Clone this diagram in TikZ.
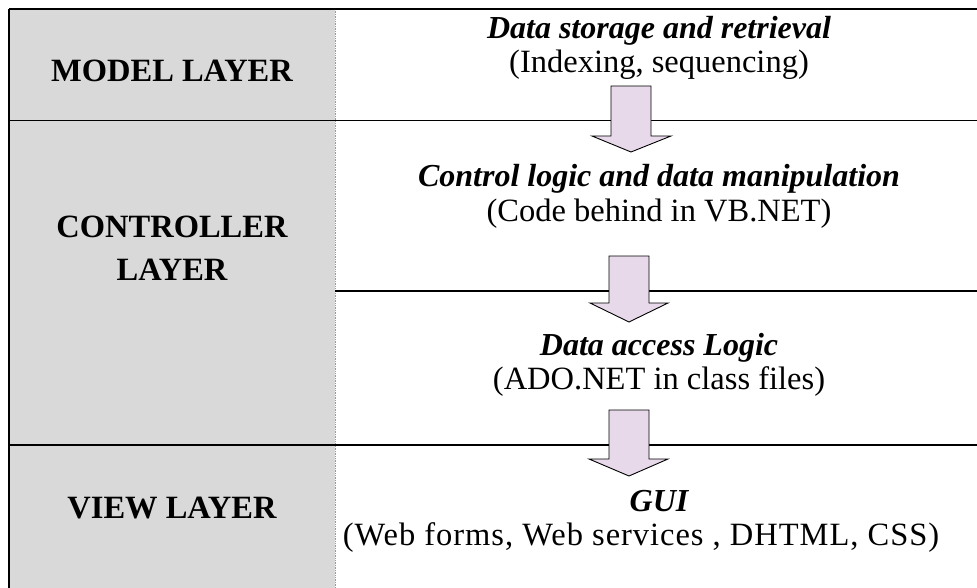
\documentclass[tikz,border=0pt]{standalone}
\usepackage{fontspec}
\setmainfont{Liberation Serif}
\begin{document}
\begin{tikzpicture}[x=1pt,y=-1pt,
  rule/.style={line width=1.3pt,black},
  divider/.style={line width=0.7pt,black!40,densely dotted},
  layerlabel/.style={anchor=base,inner sep=0pt,font=\fontsize{32.5}{38}\selectfont\bfseries},
  tasktitle/.style={anchor=base,inner sep=0pt,font=\fontsize{32}{38}\selectfont\bfseries\itshape},
  taskdetail/.style={anchor=base,inner sep=0pt,font=\fontsize{32.5}{38}\selectfont},
  flowarrow/.style={draw=black,line width=0.9pt,fill=arrowfill,line join=miter}]
\definecolor{labelgrey}{HTML}{D9D9D9}
\definecolor{arrowfill}{HTML}{E8D9EA}
\useasboundingbox (0,0) rectangle (977,588);

% grey column of layer names
\fill[labelgrey] (9,9) rectangle (335,588);
\draw[divider] (335,9) -- (335,588);

% table rules
\draw[rule] (9,9) -- (977,9);
\draw[rule] (9,9) -- (9,588);
\draw[rule] (9,120.5) -- (977,120.5);
\draw[rule] (335,291) -- (977,291);
\draw[rule] (9,445) -- (977,445);

% layer names
\node[layerlabel] (model) at (172,82) {MODEL LAYER};
\node[layerlabel] (ctrlA) at (172,237) {CONTROLLER};
\node[layerlabel] (ctrlB) at (172,280) {LAYER};
\node[layerlabel] (view)  at (172,518) {VIEW LAYER};

% tasks
\node[tasktitle]  (store)   at (659,39)  {Data storage and retrieval};
\node[taskdetail] (storeD)  at (659,73)  {(Indexing, sequencing)};
\node[tasktitle]  (logic)   at (659,187) {Control logic and data manipulation};
\node[taskdetail] (logicD)  at (659,222) {(Code behind in VB.NET)};
\node[tasktitle]  (access)  at (659,355) {Data access Logic};
\node[taskdetail] (accessD) at (659,389) {(ADO.NET in class files)};
\node[tasktitle]  (gui)     at (659,511) {GUI};
\node[taskdetail] (guiD)    at (641,545)
  {\addfontfeature{LetterSpace=3.0}(Web forms, Web services , DHTML, CSS)};

% block arrows between tasks
\draw[flowarrow] (611,86) -- (651,86) -- (651,136) -- (671,136) -- (631,152)
  -- (592,136) -- (611,136) -- cycle;
\draw[flowarrow] (609,256) -- (649,256) -- (649,303) -- (668,303) -- (629,322)
  -- (590,303) -- (609,303) -- cycle;
\draw[flowarrow] (609,410) -- (649,410) -- (649,459) -- (668,459) -- (629,476)
  -- (589,459) -- (609,459) -- cycle;
\end{tikzpicture}
\end{document}
